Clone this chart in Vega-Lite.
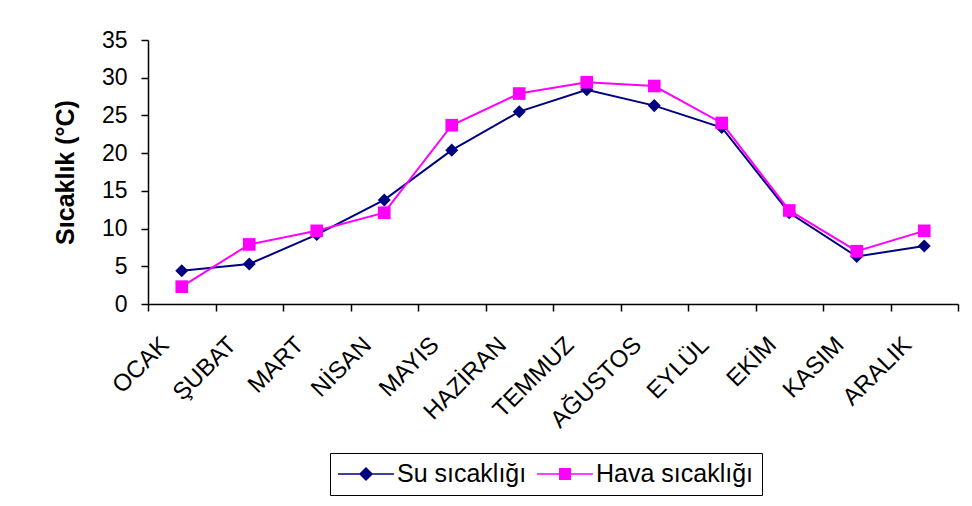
{
  "$schema": "https://vega.github.io/schema/vega-lite/v6.json",
  "autosize": {"type": "none"},
  "width": 810,
  "height": 264,
  "padding": {"left": 148, "top": 40, "right": 14, "bottom": 202},
  "background": "white",
  "config": {
    "view": {"stroke": null},
    "font": "Liberation Sans",
    "axis": {"grid": false, "domainColor": "black", "tickColor": "black", "domainWidth": 1.5, "tickWidth": 1.5, "labelColor": "black", "titleColor": "black", "labelFont": "Liberation Sans", "titleFont": "Liberation Sans"}
  },
  "data": {
    "values": [
      {"ay": "OCAK", "seri": "Su sıcaklığı", "deger": 4.4},
      {"ay": "ŞUBAT", "seri": "Su sıcaklığı", "deger": 5.3},
      {"ay": "MART", "seri": "Su sıcaklığı", "deger": 9.2},
      {"ay": "NİSAN", "seri": "Su sıcaklığı", "deger": 13.8},
      {"ay": "MAYIS", "seri": "Su sıcaklığı", "deger": 20.4},
      {"ay": "HAZİRAN", "seri": "Su sıcaklığı", "deger": 25.5},
      {"ay": "TEMMUZ", "seri": "Su sıcaklığı", "deger": 28.4},
      {"ay": "AĞUSTOS", "seri": "Su sıcaklığı", "deger": 26.3},
      {"ay": "EYLÜL", "seri": "Su sıcaklığı", "deger": 23.4},
      {"ay": "EKİM", "seri": "Su sıcaklığı", "deger": 12.1},
      {"ay": "KASIM", "seri": "Su sıcaklığı", "deger": 6.3},
      {"ay": "ARALIK", "seri": "Su sıcaklığı", "deger": 7.7},
      {"ay": "OCAK", "seri": "Hava sıcaklığı", "deger": 2.3},
      {"ay": "ŞUBAT", "seri": "Hava sıcaklığı", "deger": 7.9},
      {"ay": "MART", "seri": "Hava sıcaklığı", "deger": 9.7},
      {"ay": "NİSAN", "seri": "Hava sıcaklığı", "deger": 12.1},
      {"ay": "MAYIS", "seri": "Hava sıcaklığı", "deger": 23.7},
      {"ay": "HAZİRAN", "seri": "Hava sıcaklığı", "deger": 27.9},
      {"ay": "TEMMUZ", "seri": "Hava sıcaklığı", "deger": 29.4},
      {"ay": "AĞUSTOS", "seri": "Hava sıcaklığı", "deger": 28.9},
      {"ay": "EYLÜL", "seri": "Hava sıcaklığı", "deger": 24.0},
      {"ay": "EKİM", "seri": "Hava sıcaklığı", "deger": 12.4},
      {"ay": "KASIM", "seri": "Hava sıcaklığı", "deger": 7.0},
      {"ay": "ARALIK", "seri": "Hava sıcaklığı", "deger": 9.7}
    ]
  },
  "encoding": {
    "x": {
      "field": "ay", "type": "nominal",
      "sort": ["OCAK", "ŞUBAT", "MART", "NİSAN", "MAYIS", "HAZİRAN", "TEMMUZ", "AĞUSTOS", "EYLÜL", "EKİM", "KASIM", "ARALIK"],
      "scale": {"type": "band", "paddingInner": 0, "paddingOuter": 0},
      "axis": {"title": null, "labelAngle": -45, "labelAlign": "right", "labelBaseline": "middle", "labelFontSize": 24, "labelPadding": 30, "labelOffset": -17, "tickBand": "extent", "tickSize": 7}
    },
    "y": {
      "field": "deger", "type": "quantitative",
      "scale": {"domain": [0, 35], "nice": false},
      "axis": {"values": [0, 5, 10, 15, 20, 25, 30, 35], "title": "Sıcaklık (°C)", "titleFontSize": 25, "titleFontWeight": "bold", "titlePadding": 23, "labelFontSize": 23, "labelPadding": 14, "tickSize": 7}
    }
  },
  "layer": [
    {
      "mark": {"type": "line", "strokeWidth": 2},
      "encoding": {
        "color": {
          "field": "seri", "type": "nominal",
          "scale": {"domain": ["Su sıcaklığı", "Hava sıcaklığı"], "range": ["#000080", "#FF00FF"]}
        }
      }
    },
    {
      "mark": {"type": "point", "filled": true, "size": 0, "opacity": 1},
      "encoding": {
        "color": {
          "field": "seri", "type": "nominal",
          "scale": {"domain": ["Su sıcaklığı", "Hava sıcaklığı"], "range": ["#000080", "#FF00FF"]},
          "legend": {
            "title": null, "orient": "none", "legendX": 182, "legendY": 413, "direction": "horizontal",
            "strokeColor": "black", "padding": 8, "columnPadding": 10,
            "labelFontSize": 25, "labelFont": "Liberation Sans", "labelColor": "black", "labelOffset": 18,
            "symbolSize": 676, "symbolOffset": 15, "symbolOpacity": 1, "symbolStrokeWidth": 0
          }
        },
        "shape": {
          "field": "seri", "type": "nominal",
          "scale": {"domain": ["Su sıcaklığı", "Hava sıcaklığı"], "range": ["M-2.15,-0.06H2.15V0.06H-2.15ZM0,-0.54L0.54,0L0,0.54L-0.54,0Z", "M-2.15,-0.06H2.15V0.06H-2.15ZM-0.46,-0.46H0.46V0.46H-0.46Z"]},
          "legend": {
            "title": null, "orient": "none", "legendX": 182, "legendY": 413, "direction": "horizontal",
            "strokeColor": "black", "padding": 8, "columnPadding": 10,
            "labelFontSize": 25, "labelFont": "Liberation Sans", "labelColor": "black", "labelOffset": 18,
            "symbolSize": 676, "symbolOffset": 15, "symbolOpacity": 1, "symbolStrokeWidth": 0
          }
        }
      }
    },
    {
      "transform": [{"filter": "datum.seri === 'Su sıcaklığı'"}],
      "mark": {"type": "point", "filled": true, "size": 170, "opacity": 1, "shape": "diamond", "color": "#000080"}
    },
    {
      "transform": [{"filter": "datum.seri === 'Hava sıcaklığı'"}],
      "mark": {"type": "point", "filled": true, "size": 160, "opacity": 1, "shape": "square", "color": "#FF00FF"}
    }
  ]
}
